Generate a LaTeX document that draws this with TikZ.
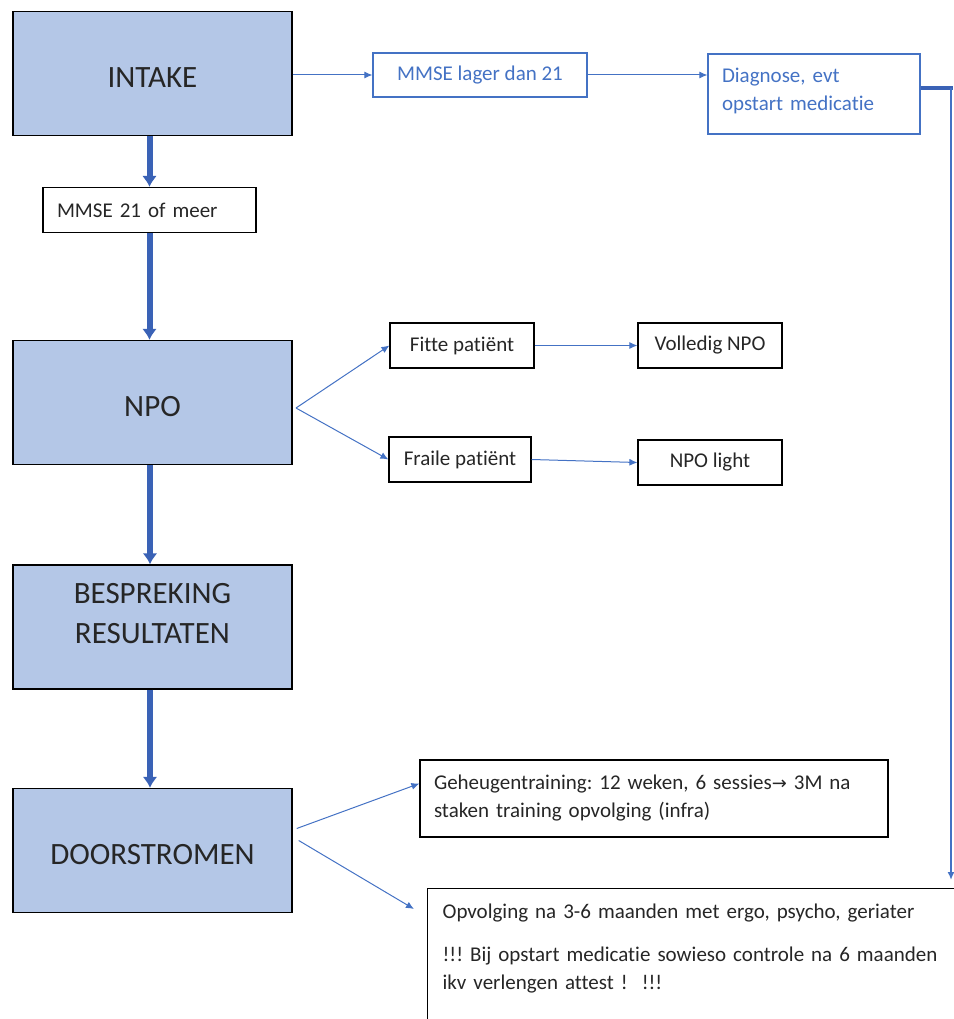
\documentclass[tikz,border=0pt]{standalone}
\usepackage{fontspec}
\setmainfont{Carlito}[Ligatures=NoCommon]
\newfontfamily\symfont{DejaVu Sans}
\usepackage{xcolor}
\usetikzlibrary{arrows.meta}
\definecolor{boxblue}{RGB}{180,199,231}
\definecolor{lineblue}{RGB}{68,114,196}
\definecolor{darkblue}{RGB}{58,98,182}
\frenchspacing

\begin{document}
\begin{tikzpicture}[x=1pt,y=-1pt,>=latex,
  bigbox/.style={draw=black, line width=1.4pt, fill=boxblue, minimum width=279pt, minimum height=124pt, inner sep=0pt, align=center, text height=28pt, text depth=0pt, font=\fontsize{31}{40}\selectfont, text=black!85},
  smallbox/.style={draw=black, line width=1.2pt, minimum height=45pt, inner sep=0pt, font=\fontsize{21}{28}\selectfont, text=black!85},
  bluebox/.style={draw=lineblue, line width=1.2pt, inner sep=0pt, font=\fontsize{21}{28}\selectfont, text=lineblue},
  thinarrow/.style={-{Latex[length=8pt,width=7pt]}, draw=lineblue, line width=1pt},
  thickarrow/.style={-{Latex[length=11pt,width=15pt]}, draw=darkblue, line width=6pt}]
\useasboundingbox (0,0) rectangle (953,1019);

%Hauptkette links
\node[bigbox] (intake) at (152.5,73.5) {INTAKE};
\node[smallbox, minimum width=213pt, text width=185pt, align=left] (mmse21) at (149.5,210) {MMSE 21 of meer};
\node[bigbox] (npo) at (152.5,402.5) {NPO};
\node[bigbox, text height=60pt, text depth=28pt] (bespreking) at (152.5,627) {BESPREKING\\RESULTATEN};
\node[bigbox] (doorstromen) at (152.5,850.5) {DOORSTROMEN};

\draw[thickarrow] (mmse21.north |- intake.south) to (mmse21.north);
\draw[thickarrow] (mmse21.south) to (mmse21.south |- npo.north);
\draw[thickarrow] ([xshift=-2.5pt]npo.south) to ([xshift=-2.5pt]bespreking.north);
\draw[thickarrow] ([xshift=-2.5pt]bespreking.south) to ([xshift=-2.5pt]doorstromen.north);

%oben rechts
\node[bluebox, minimum width=214pt, minimum height=44pt] (mmselager) at (480,75) {MMSE lager dan 21};
\node[bluebox, minimum width=212pt, minimum height=80pt, text width=184pt, align=left, text depth=38pt] (diagnose) at (814,94) {Diagnose, evt\\opstart medicatie};
\draw[thinarrow] (intake.east |- mmselager.west) to (mmselager.west);
\draw[thinarrow] (mmselager.east) to (mmselager.east -| diagnose.west);

\coordinate (bend) at (951,88);
\coordinate (down) at (951,880);
\draw[darkblue, line width=4pt] (diagnose.east |- bend) to ([xshift=2pt]bend);
\draw[thinarrow, line width=1.6pt] (bend) to (down);

%NPO Verzweigung
\coordinate (fork) at (296,408);
\node[smallbox, minimum width=144pt] (fitte) at (462,345.5) {Fitte patiënt};
\node[smallbox, minimum width=144pt] (volledig) at (710,345.5) {Volledig NPO};
\node[smallbox, minimum width=142pt] (fraile) at (460,459.5) {Fraile patiënt};
\node[smallbox, minimum width=144pt] (npolight) at (710,462.5) {NPO light};
\draw[thinarrow] (fork) to (fitte.west);
\draw[thinarrow] (fork) to (fraile.west);
\draw[thinarrow] (fitte.east) to (volledig.west);
\draw[thinarrow] (fraile.east) to (npolight.west);

%Doorstromen
\node[smallbox, minimum width=468pt, minimum height=77pt, text width=440pt, align=left] (geheugen) at (654,798.5) {Geheugentraining: 12 weken, 6 sessies{\symfont\fontsize{18}{28}\selectfont →} 3M na\\staken training opvolging (infra)};
\node[smallbox, anchor=north west, minimum width=560pt, text width=530pt, align=left, inner xsep=14pt, inner ysep=15pt, text depth=130pt] (opvolging) at (427,888) {Opvolging na 3-6 maanden met ergo, psycho, geriater\\[15pt]
 !!! Bij opstart medicatie sowieso controle na 6 maanden\\ikv verlengen attest !~~!!!};
\draw[thinarrow] ([xshift=4pt,yshift=22pt]doorstromen.east) to ([yshift=15pt]geheugen.west);
\draw[thinarrow] ([xshift=6pt,yshift=10pt]doorstromen.east) to ([xshift=-13pt,yshift=-21pt]opvolging.north west);

\end{tikzpicture}
\end{document}
